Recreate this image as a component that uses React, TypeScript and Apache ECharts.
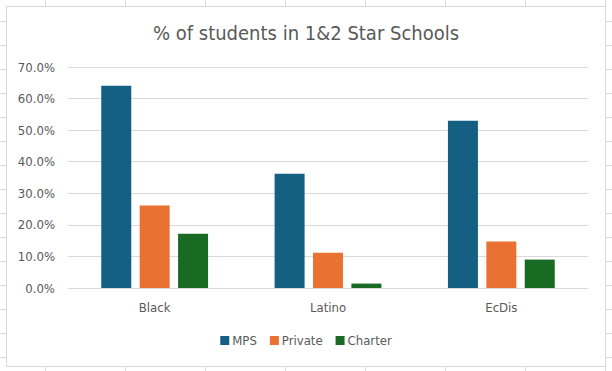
import React, { useEffect, useRef } from "react";
import * as echarts from "echarts";

const categories = ["Black", "Latino", "EcDis"];
const mps = [64.1, 36.2, 53.0];
const privateVals = [26.1, 11.2, 14.7];
const charter = [17.2, 1.4, 9.0];
const seriesNames = ["MPS", "Private", "Charter"];
const titleText = "% of students in 1&2 Star Schools";

const FONT = "'Liberation Sans Narrow', 'DejaVu Sans Condensed', 'Roboto', sans-serif";
const GRAY = "#595959";

export default function App() {
  const ref = useRef<HTMLDivElement>(null);
  useEffect(() => {
    if (!ref.current) return;
    const chart = echarts.init(ref.current, undefined, { renderer: "svg" });
    const bar = (name: string, data: number[], color: string) => ({
      name,
      type: "bar",
      data,
      barWidth: 30,
      barGap: "28%",
      itemStyle: { color },
    });
    chart.setOption({
      animation: false,
      backgroundColor: "#ffffff",
      textStyle: { fontFamily: FONT },
      title: {
        text: titleText,
        left: "center",
        top: 11,
        textStyle: { fontFamily: FONT, fontSize: 20, fontWeight: "normal", color: GRAY },
      },
      legend: {
        data: seriesNames,
        bottom: 14,
        left: "center",
        itemWidth: 9,
        itemHeight: 9,
        itemGap: 13,
        icon: "rect",
        textStyle: { fontFamily: FONT, fontSize: 13, color: GRAY, padding: [0, 0, 0, -2] },
      },
      grid: { left: 61, right: 17, top: 60, bottom: 78, containLabel: false },
      xAxis: {
        type: "category",
        data: categories,
        axisLine: { lineStyle: { color: "#d9d9d9" } },
        axisTick: { show: false },
        axisLabel: { fontFamily: FONT, fontSize: 13, color: GRAY, margin: 13 },
      },
      yAxis: {
        type: "value",
        min: 0,
        max: 70,
        interval: 10,
        axisLine: { show: false },
        axisTick: { show: false },
        splitLine: { lineStyle: { color: "#d9d9d9" } },
        axisLabel: {
          fontFamily: FONT,
          fontSize: 13,
          color: GRAY,
          margin: 13,
          formatter: (v: number) => v.toFixed(1) + "%",
        },
      },
      series: [
        bar(seriesNames[0], mps, "#156082"),
        bar(seriesNames[1], privateVals, "#E97132"),
        bar(seriesNames[2], charter, "#196B24"),
      ],
    });
    return () => chart.dispose();
  }, []);

  return (
    <div
      style={{
        position: "fixed",
        left: 0,
        top: 0,
        width: 612,
        height: 371,
        background: "#ffffff",
        backgroundImage:
          "linear-gradient(to right, #dadada 1px, transparent 1px), linear-gradient(to bottom, #dadada 1px, transparent 1px)",
        backgroundSize: "80px 100%, 100% 24px",
        backgroundPosition: "45px 0, 0 21px",
      }}
    >
      <div
        style={{
          position: "absolute",
          left: 6,
          top: 6,
          width: 600,
          height: 361,
          boxSizing: "border-box",
          border: "1px solid #d9d9d9",
          background: "#ffffff",
        }}
      >
        <div ref={ref} style={{ width: 598, height: 359 }} />
      </div>
    </div>
  );
}
